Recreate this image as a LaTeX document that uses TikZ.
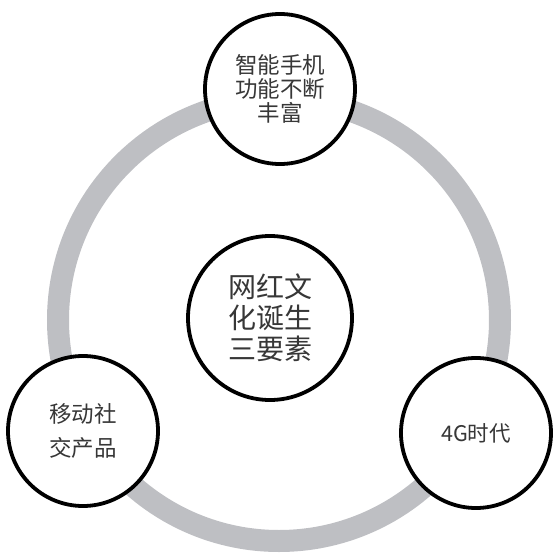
\documentclass[tikz,border=0pt]{standalone}
\usepackage{fontspec}
\newfontfamily\cjk{Noto Sans CJK SC}
\definecolor{ringgray}{RGB}{190,191,195}
\definecolor{txt}{RGB}{55,55,55}
\begin{document}
\begin{tikzpicture}[x=1pt,y=-1pt,
  bubble/.style={circle, draw=black, line width=3.8pt, fill=white, inner sep=0pt},
  lbl/.style={align=center, text=txt, font=\cjk}]
\useasboundingbox (0,0) rectangle (558,555);
\coordinate (rc) at (279,320);
\draw[ringgray, line width=22pt] (rc) circle[radius=221];
\node[bubble, minimum size=150pt] (top) at (280,89) {};
\node[bubble, minimum size=164pt] (mid) at (270,318) {};
\node[bubble, minimum size=150pt] (left) at (83,431) {};
\node[bubble, minimum size=150pt] (right) at (476,433) {};
\node[lbl, font=\cjk\fontsize{22.5}{24}\selectfont] at (top) {智能手机\\功能不断\\丰富};
\node[lbl, font=\cjk\fontsize{28}{31}\selectfont] at (mid) {网红文\\化诞生\\三要素};
\node[lbl, font=\cjk\fontsize{22.5}{34}\selectfont] at (left) {移动社\\交产品};
\node[lbl, font=\cjk\fontsize{21.5}{24}\selectfont] at (right) {4G时代};
\end{tikzpicture}
\end{document}
